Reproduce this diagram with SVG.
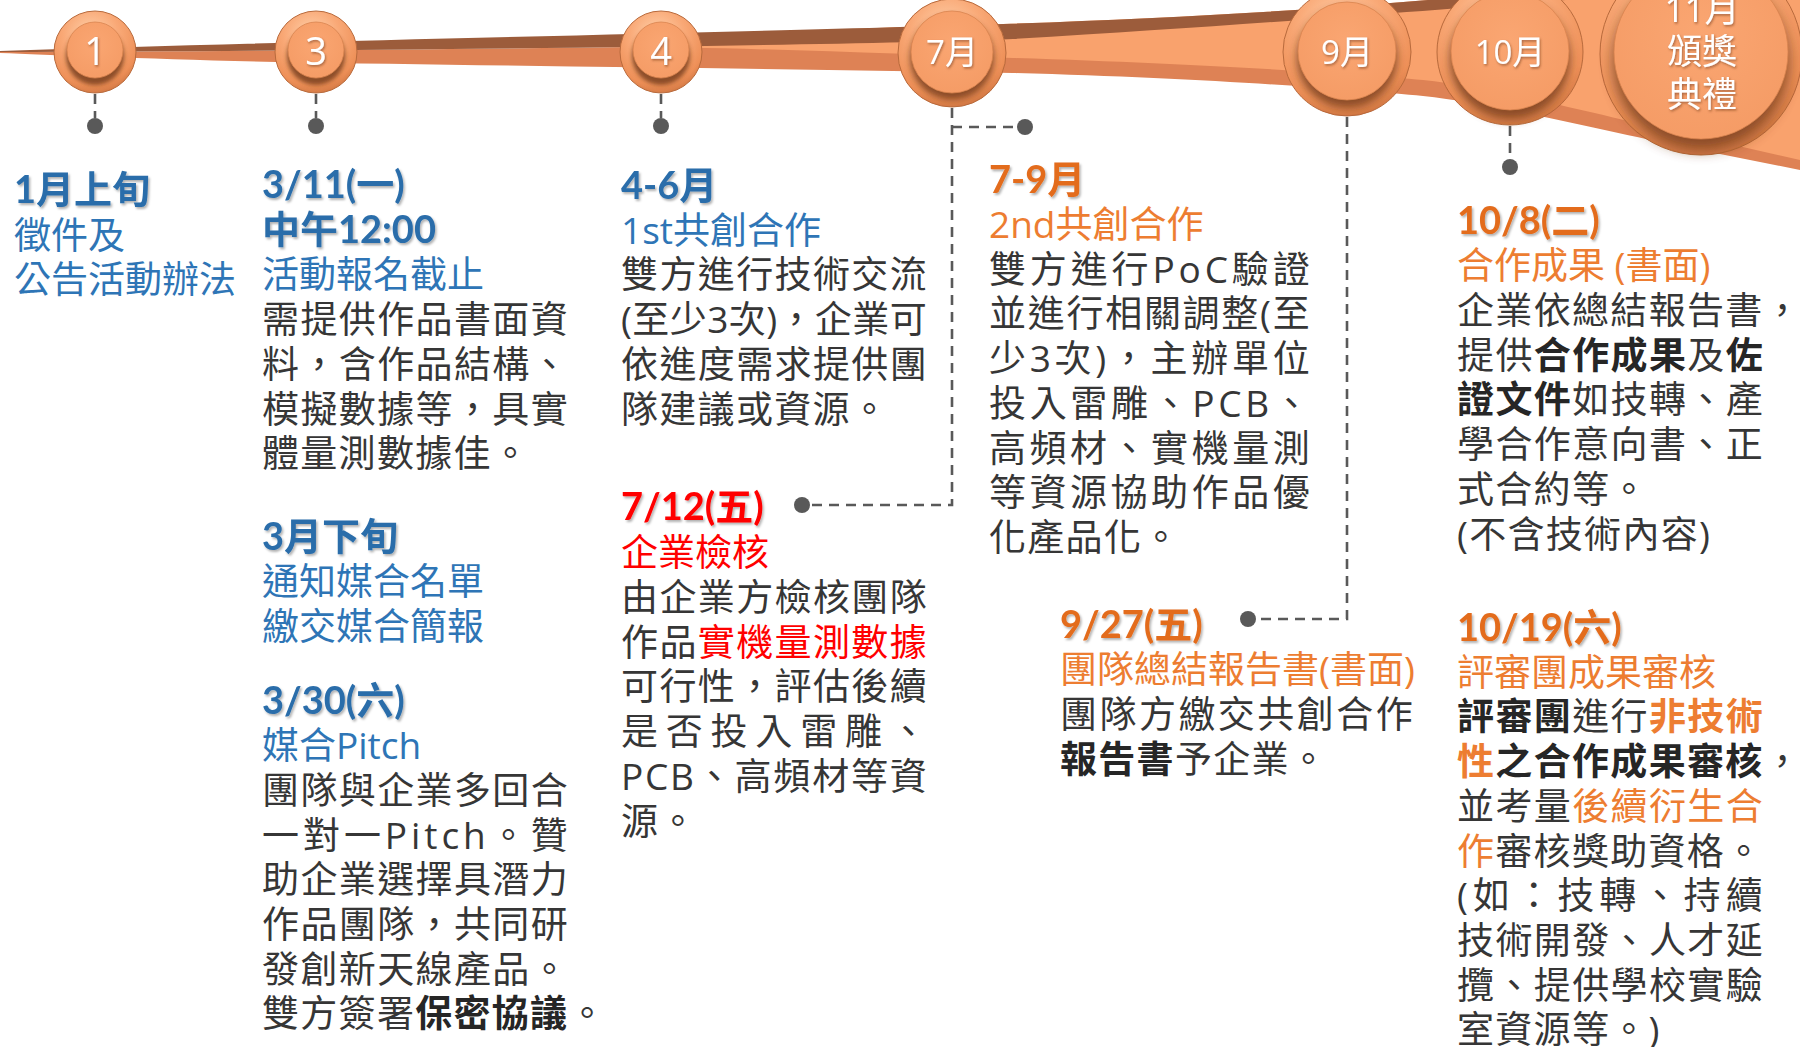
<svg xmlns="http://www.w3.org/2000/svg" width="1800" height="1047" viewBox="0 0 1800 1047" xml:lang="zh-TW" lang="zh-TW">
<defs>
<style>
.b{font-family:"Open Sans","Noto Sans CJK TC",sans-serif;font-size:37px;fill:#363636;letter-spacing:1.3px}
.s{font-family:"Open Sans","Noto Sans CJK TC",sans-serif;font-size:37px}
.h{font-family:Lato,"Noto Sans CJK TC",sans-serif;font-size:38px;font-weight:700}
.hb{fill:#2A6DAA}.blue{fill:#2E75B6}
.ho{fill:#E36C1F}.org{fill:#ED7D31}
.red{fill:#FF0000}
.k{font-weight:700;fill:#262626}
.ob{font-weight:700;fill:#ED7D31}
.ct{font-family:"Open Sans","Noto Sans CJK TC",sans-serif;fill:#FFFFFF;text-anchor:middle}
.ring{fill:url(#ring);stroke:#B86A3C;stroke-width:1}
.cres{fill:#6B3414;opacity:0.75}
.face{fill:url(#face);stroke:#D9844F;stroke-width:0.8}
</style>
<radialGradient id="ring" cx="0.45" cy="0.3" r="0.75">
<stop offset="0" stop-color="#FFD3AE"/>
<stop offset="0.45" stop-color="#F9A977"/>
<stop offset="0.8" stop-color="#EE9058"/>
<stop offset="1" stop-color="#C9703C"/>
</radialGradient>
<radialGradient id="face" cx="0.5" cy="0.4" r="0.6">
<stop offset="0" stop-color="#FAA672"/>
<stop offset="1" stop-color="#F59C66"/>
</radialGradient>
<filter id="bl" x="-30%" y="-30%" width="160%" height="160%" primitiveUnits="objectBoundingBox">
<feGaussianBlur stdDeviation="0.04"/>
</filter>
<filter id="ts" x="-20%" y="-20%" width="140%" height="140%">
<feDropShadow dx="1" dy="1.5" stdDeviation="1" flood-color="#5A2A0E" flood-opacity="0.5"/>
</filter>
<filter id="sh" x="-5%" y="-20%" width="115%" height="150%">
<feDropShadow dx="1.5" dy="2" stdDeviation="1.2" flood-color="#000" flood-opacity="0.3"/>
</filter>
</defs>
<rect width="1800" height="1047" fill="#FFFFFF"/>

<g id="band">
<path d="M0,52 C500,50 850,45 1013,39 C1300,22 1500,4 1650,-6 L1800,-6 L1800,170 L1700,150 C1620,135 1500,104 1423,96 C1350,89 1200,78 1013,73 C800,69 500,66 276,62 C150,59 50,55 0,53 Z" fill="#DE8255"/>
<path d="M600,40 L900,27 C1100,22 1300,12 1450,-2 L1800,-6 L1800,160 L1690,135 C1620,120 1500,88 1423,80 C1350,73 1200,64 1013,58 C900,54 760,48 600,46 Z" fill="#F9A26D"/>
<path d="M0,51 C300,41 700,33 900,27 C1100,22 1300,12 1450,-2 L1460,-6 L1650,-6 C1500,4 1300,22 1013,39 C850,45 500,50 0,52 Z" fill="#9C5C3B"/>
</g>

<g id="connectors">
<g fill="none" stroke="#595959" stroke-width="2.6" stroke-dasharray="10 7">
<path d="M95,94 V118"/>
<path d="M316,94 V118"/>
<path d="M661,94 V118"/>
<path d="M952,108 V505 H810"/>
<path d="M952,127 H1017"/>
<path d="M1347,117 V619 H1256"/>
<path d="M1510,126 V159"/>
</g>
<g fill="#595959">
<circle cx="95" cy="126" r="8"/>
<circle cx="316" cy="126" r="8"/>
<circle cx="661" cy="126" r="8"/>
<circle cx="802" cy="505" r="8"/>
<circle cx="1025" cy="127" r="8"/>
<circle cx="1248" cy="619" r="8"/>
<circle cx="1510" cy="167" r="8"/>
</g>
</g>

<g id="m1">
<circle class="ring" cx="95" cy="52" r="41"/>
<circle class="cres" cx="95" cy="56" r="29" filter="url(#bl)"/>
<circle class="face" cx="95" cy="50" r="28"/>
<text class="ct" x="95" y="65" font-size="38" filter="url(#ts)">1</text>
</g>
<g id="m3">
<circle class="ring" cx="316" cy="52" r="41"/>
<circle class="cres" cx="316" cy="56" r="29" filter="url(#bl)"/>
<circle class="face" cx="316" cy="50" r="28"/>
<text class="ct" x="316" y="65" font-size="38" filter="url(#ts)">3</text>
</g>
<g id="m4">
<circle class="ring" cx="661" cy="52" r="41"/>
<circle class="cres" cx="661" cy="56" r="29" filter="url(#bl)"/>
<circle class="face" cx="661" cy="50" r="28"/>
<text class="ct" x="661" y="65" font-size="38" filter="url(#ts)">4</text>
</g>
<g id="m7">
<circle class="ring" cx="952" cy="53" r="54"/>
<circle class="cres" cx="952" cy="58" r="42" filter="url(#bl)"/>
<circle class="face" cx="952" cy="52" r="41"/>
<text class="ct" x="952" y="64" font-size="33" filter="url(#ts)">7月</text>
</g>
<g id="m9">
<circle class="ring" cx="1347" cy="52" r="64"/>
<circle class="cres" cx="1347" cy="58" r="50" filter="url(#bl)"/>
<circle class="face" cx="1347" cy="51" r="49"/>
<text class="ct" x="1347" y="64" font-size="33" filter="url(#ts)">9月</text>
</g>
<g id="m10">
<circle class="ring" cx="1510" cy="52" r="73"/>
<circle class="cres" cx="1510" cy="59" r="60" filter="url(#bl)"/>
<circle class="face" cx="1510" cy="51" r="59"/>
<text class="ct" x="1510" y="64" font-size="33" filter="url(#ts)">10月</text>
</g>
<g id="m11">
<circle class="ring" cx="1701" cy="54" r="101"/>
<circle class="cres" cx="1701" cy="62" r="88" filter="url(#bl)"/>
<circle class="face" cx="1701" cy="52" r="87"/>
<g class="ct" font-size="35" filter="url(#ts)">
<text x="1702" y="22">11月</text>
<text x="1702" y="64">頒獎</text>
<text x="1702" y="107">典禮</text>
</g>
</g>

<g id="jan">
<text class="h hb" x="14" y="203" filter="url(#sh)">1月上旬</text>
<text class="s blue" x="14" y="249">徵件及</text>
<text class="s blue" x="14" y="293">公告活動辦法</text>
</g>

<g id="mar11">
<text class="h hb" x="262" y="198" filter="url(#sh)">3/11(一)</text>
<text class="h hb" x="262" y="243" filter="url(#sh)">中午12:00</text>
<text class="s blue" x="262" y="288">活動報名截止</text>
<text class="b" x="262" y="333" textLength="307" lengthAdjust="spacing">需提供作品書面資</text>
<text class="b" x="262" y="378" textLength="307" lengthAdjust="spacing">料，含作品結構、</text>
<text class="b" x="262" y="423" textLength="307" lengthAdjust="spacing">模擬數據等，具實</text>
<text class="b" x="262" y="467">體量測數據佳。</text>
</g>

<g id="marlate">
<text class="h hb" x="262" y="550" filter="url(#sh)">3月下旬</text>
<text class="s blue" x="262" y="595">通知媒合名單</text>
<text class="s blue" x="262" y="640">繳交媒合簡報</text>
</g>

<g id="mar30">
<text class="h hb" x="262" y="714" filter="url(#sh)">3/30(六)</text>
<text class="s blue" x="262" y="759">媒合Pitch</text>
<text class="b" x="262" y="804" textLength="307" lengthAdjust="spacing">團隊與企業多回合</text>
<text class="b" x="262" y="849" textLength="307" lengthAdjust="spacing">一對一Pitch。贊</text>
<text class="b" x="262" y="893" textLength="307" lengthAdjust="spacing">助企業選擇具潛力</text>
<text class="b" x="262" y="938" textLength="307" lengthAdjust="spacing">作品團隊，共同研</text>
<text class="b" x="262" y="983" textLength="307" lengthAdjust="spacing">發創新天線產品。</text>
<text class="b" x="262" y="1027">雙方簽署<tspan class="k">保密協議</tspan>。</text>
</g>

<g id="apr">
<text class="h hb" x="621" y="199" filter="url(#sh)">4-6月</text>
<text class="s blue" x="621" y="244">1st共創合作</text>
<text class="b" x="621" y="288" textLength="307" lengthAdjust="spacing">雙方進行技術交流</text>
<text class="b" x="621" y="333" textLength="307" lengthAdjust="spacing">(至少3次)，企業可</text>
<text class="b" x="621" y="378" textLength="307" lengthAdjust="spacing">依進度需求提供團</text>
<text class="b" x="621" y="423">隊建議或資源。</text>
</g>

<g id="jul12">
<text class="h red" x="621" y="520" filter="url(#sh)">7/12(五)</text>
<text class="s red" x="621" y="566">企業檢核</text>
<text class="b" x="621" y="611" textLength="307" lengthAdjust="spacing">由企業方檢核團隊</text>
<text class="b" x="621" y="656" textLength="307" lengthAdjust="spacing">作品<tspan class="red">實機量測數據</tspan></text>
<text class="b" x="621" y="700" textLength="307" lengthAdjust="spacing">可行性，評估後續</text>
<text class="b" x="621" y="745" textLength="307" lengthAdjust="spacing">是否投入雷雕、</text>
<text class="b" x="621" y="790" textLength="307" lengthAdjust="spacing">PCB、高頻材等資</text>
<text class="b" x="621" y="835">源。</text>
</g>

<g id="jul">
<text class="h ho" x="989" y="193" filter="url(#sh)">7-9月</text>
<text class="s org" x="989" y="238">2nd共創合作</text>
<text class="b" x="989" y="283" textLength="322" lengthAdjust="spacing">雙方進行PoC驗證</text>
<text class="b" x="989" y="327" textLength="322" lengthAdjust="spacing">並進行相關調整(至</text>
<text class="b" x="989" y="372" textLength="322" lengthAdjust="spacing">少3次)，主辦單位</text>
<text class="b" x="989" y="417" textLength="322" lengthAdjust="spacing">投入雷雕、PCB、</text>
<text class="b" x="989" y="462" textLength="322" lengthAdjust="spacing">高頻材、實機量測</text>
<text class="b" x="989" y="506" textLength="322" lengthAdjust="spacing">等資源協助作品優</text>
<text class="b" x="989" y="551">化產品化。</text>
</g>

<g id="sep27">
<text class="h ho" x="1060" y="638" filter="url(#sh)">9/27(五)</text>
<text class="s org" x="1060" y="683">團隊總結報告書(書面)</text>
<text class="b" x="1060" y="728" textLength="354" lengthAdjust="spacing">團隊方繳交共創合作</text>
<text class="b" x="1060" y="773"><tspan class="k">報告書</tspan>予企業。</text>
</g>

<g id="oct8">
<text class="h ho" x="1457" y="234" filter="url(#sh)">10/8(二)</text>
<text class="s org" x="1457" y="279">合作成果 (書面)</text>
<text class="b" x="1457" y="324" textLength="345" lengthAdjust="spacing">企業依總結報告書，</text>
<text class="b" x="1457" y="369" textLength="307" lengthAdjust="spacing">提供<tspan class="k">合作成果</tspan>及<tspan class="k">佐</tspan></text>
<text class="b" x="1457" y="413" textLength="307" lengthAdjust="spacing"><tspan class="k">證文件</tspan>如技轉、產</text>
<text class="b" x="1457" y="458" textLength="307" lengthAdjust="spacing">學合作意向書、正</text>
<text class="b" x="1457" y="503">式合約等。</text>
<text class="b" x="1457" y="548">(不含技術內容)</text>
</g>

<g id="oct19">
<text class="h ho" x="1457" y="641" filter="url(#sh)">10/19(六)</text>
<text class="s org" x="1457" y="686">評審團成果審核</text>
<text class="b" x="1457" y="730" textLength="307" lengthAdjust="spacing"><tspan class="k">評審團</tspan>進行<tspan class="ob">非技術</tspan></text>
<text class="b" x="1457" y="775" textLength="345" lengthAdjust="spacing"><tspan class="ob">性</tspan><tspan class="k">之合作成果審核</tspan>，</text>
<text class="b" x="1457" y="820" textLength="307" lengthAdjust="spacing">並考量<tspan class="org">後續衍生合</tspan></text>
<text class="b" x="1457" y="865"><tspan class="org">作</tspan>審核獎助資格。</text>
<text class="b" x="1457" y="909" textLength="307" lengthAdjust="spacing">(如：技轉、持續</text>
<text class="b" x="1457" y="954" textLength="307" lengthAdjust="spacing">技術開發、人才延</text>
<text class="b" x="1457" y="999" textLength="307" lengthAdjust="spacing">攬、提供學校實驗</text>
<text class="b" x="1457" y="1043">室資源等。)</text>
</g>
</svg>
